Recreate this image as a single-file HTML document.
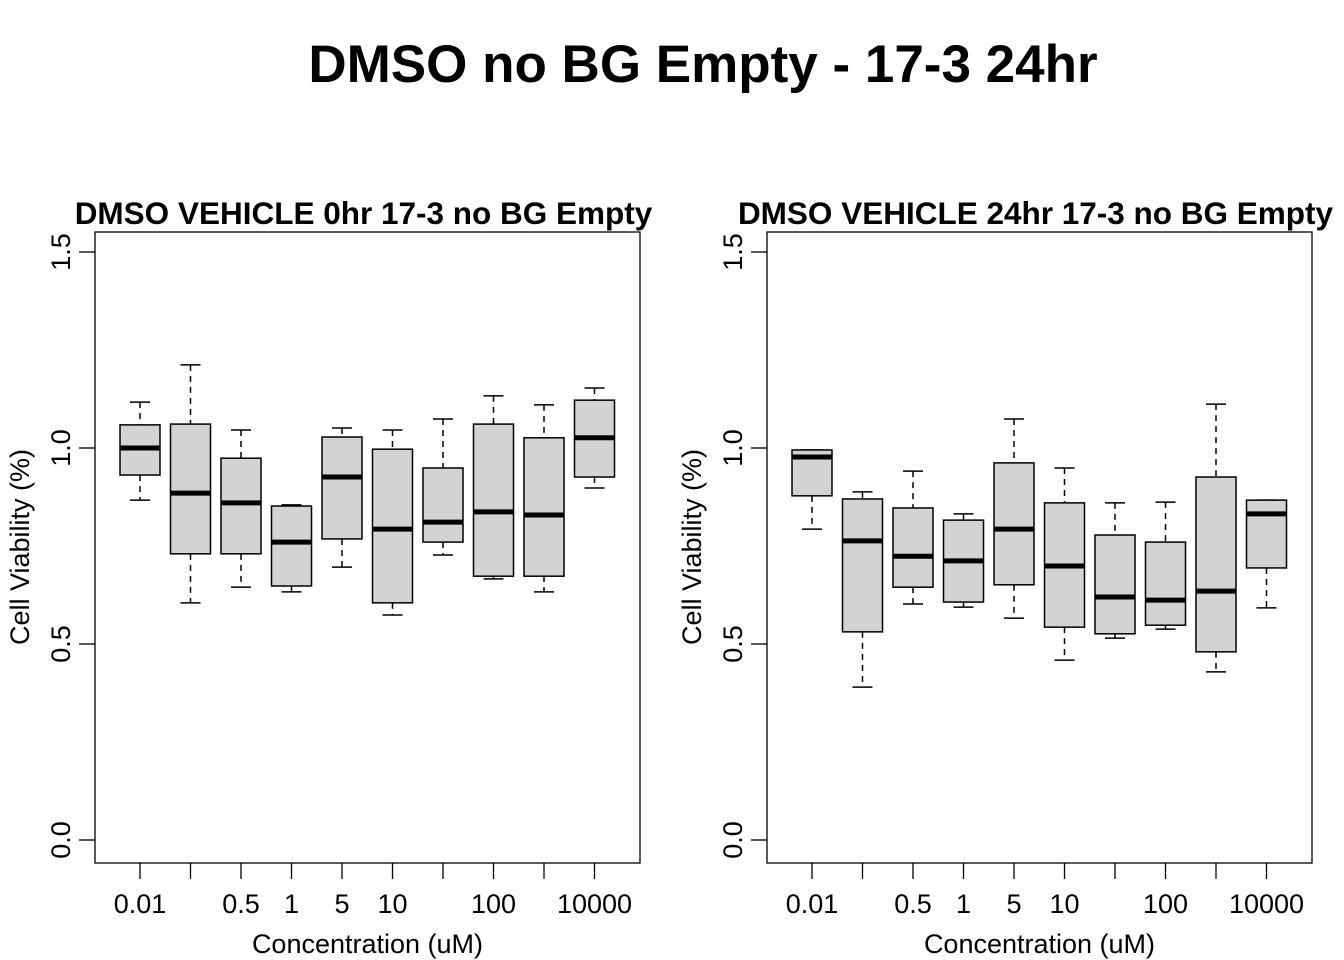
<!DOCTYPE html>
<html><head><meta charset="utf-8"><style>
body{margin:0;background:#fff;}
svg{display:block;font-family:"Liberation Sans",sans-serif;}
</style></head><body>
<svg id="chart" width="1344" height="960" viewBox="0 0 1344 960">
<text x="703" y="82" text-anchor="middle" font-size="53" font-weight="bold">DMSO no BG Empty - 17-3 24hr</text>
</svg>
<script>
const categories = ["0.01","","0.5","1","5","10","","100","","10000"];
const yTicks = [0, 0.5, 1.0, 1.5];
const yTickLabels = ["0.0","0.5","1.0","1.5"];
// [whiskerHigh, q3, median, q1, whiskerLow]
const panel1Stats = [
 [1.117,1.059,1.0,0.931,0.867],
 [1.212,1.061,0.885,0.730,0.605],
 [1.046,0.974,0.860,0.730,0.645],
 [0.855,0.852,0.760,0.648,0.633],
 [1.051,1.028,0.926,0.768,0.696],
 [1.046,0.997,0.793,0.605,0.574],
 [1.074,0.949,0.811,0.760,0.727],
 [1.133,1.061,0.837,0.673,0.666],
 [1.110,1.026,0.829,0.673,0.633],
 [1.153,1.122,1.026,0.926,0.898]
];
const panel2Stats = [
 [0.995,0.995,0.977,0.878,0.793],
 [0.888,0.870,0.763,0.531,0.390],
 [0.941,0.847,0.724,0.645,0.602],
 [0.832,0.816,0.712,0.607,0.594],
 [1.074,0.962,0.793,0.651,0.566],
 [0.949,0.860,0.699,0.543,0.459],
 [0.860,0.778,0.620,0.526,0.515],
 [0.862,0.760,0.612,0.548,0.538],
 [1.112,0.926,0.635,0.480,0.429],
 [0.867,0.867,0.832,0.694,0.592]
];
const panelTitles = ["DMSO VEHICLE 0hr 17-3 no BG Empty","DMSO VEHICLE 24hr 17-3 no BG Empty"];

const svg = document.getElementById('chart');
const NS = "http://www.w3.org/2000/svg";
function mk(tag, attrs, parent){
  const e = document.createElementNS(NS, tag);
  for (const k in attrs) e.setAttribute(k, attrs[k]);
  (parent||svg).appendChild(e);
  return e;
}
function drawPanel(x0, stats, title, idx){
  const g = mk('g', {});
  
  
  const left = x0, right = x0 + 545, top = 232, bottom = 863;
  const yScale = v => 840 - v * 392;
  const xScale = i => left + 45 + i * 50.5;
  const frame = mk('rect', {x:left, y:top, width:right-left, height:bottom-top, fill:'none', stroke:'#000', 'stroke-width':1.3}, g);
  
  
  const t = mk('text', {x:(left+right)/2 - 4, y:224, 'text-anchor':'middle', 'font-size':31.5, 'font-weight':'bold'}, g);
  t.textContent = title;
  
  
  // y axis
  const ax = left;
  yTicks.forEach((v, i) => {
    const y = yScale(v);
    mk('line', {x1:ax-16, x2:ax, y1:y, y2:y, stroke:'#000', 'stroke-width':1.3}, g);
    const tl = mk('text', {x:0, y:0, transform:`translate(${ax-25},${y}) rotate(-90)`, 'text-anchor':'middle', 'font-size':27}, g);
    tl.textContent = yTickLabels[i];
    
    
  });
  const yt = mk('text', {transform:`translate(${left-66},${547}) rotate(-90)`, 'text-anchor':'middle', 'font-size':27}, g);
  yt.textContent = 'Cell Viability (%)';
  
  
  // x axis
  categories.forEach((c, i) => {
    const x = xScale(i);
    mk('line', {x1:x, x2:x, y1:bottom, y2:bottom+16, stroke:'#000','stroke-width':1.3}, g);
    if (c) {
      const tl = mk('text', {x:x, y:913, 'text-anchor':'middle', 'font-size':27}, g);
      tl.textContent = c;
      
      
    }
  });
  const xt = mk('text', {x:(left+right)/2, y:953, 'text-anchor':'middle', 'font-size':27}, g);
  xt.textContent = 'Concentration (uM)';
  
  
  // boxes
  stats.forEach((s, i) => {
    const x = xScale(i), hw = 20, cw = 10;
    const bg = mk('g', {}, g);
    
    
    const [wh, q3, med, q1, wl] = s.map(yScale);
    mk('line', {x1:x, x2:x, y1:wh, y2:q3, stroke:'#000','stroke-width':1.5,'stroke-dasharray':'6,5'}, bg);
    mk('line', {x1:x, x2:x, y1:q1, y2:wl, stroke:'#000','stroke-width':1.5,'stroke-dasharray':'6,5'}, bg);
    mk('line', {x1:x-cw, x2:x+cw, y1:wh, y2:wh, stroke:'#000','stroke-width':1.5}, bg);
    mk('line', {x1:x-cw, x2:x+cw, y1:wl, y2:wl, stroke:'#000','stroke-width':1.5}, bg);
    mk('rect', {x:x-hw, y:q3, width:hw*2, height:q1-q3, fill:'#d3d3d3', stroke:'#000','stroke-width':1.5}, bg);
    mk('line', {x1:x-hw, x2:x+hw, y1:med, y2:med, stroke:'#000','stroke-width':5}, bg);
  });
}
drawPanel(95, panel1Stats, panelTitles[0], 0);
drawPanel(767, panel2Stats, panelTitles[1], 1);
</script>
</body></html>
